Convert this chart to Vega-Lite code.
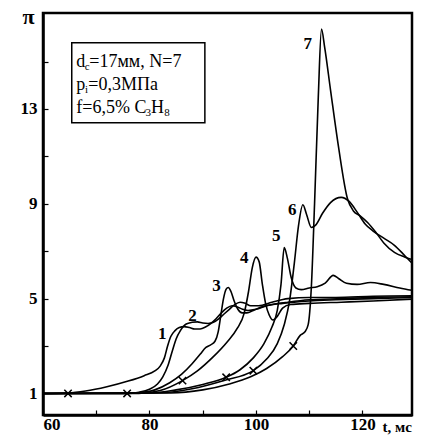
{
  "$schema": "https://vega.github.io/schema/vega-lite/v6.json",
  "width": 369,
  "height": 402,
  "autosize": "none",
  "padding": {"left": 43, "top": 13, "right": 15, "bottom": 21},
  "background": "white",
  "config": {
    "view": {"stroke": "black", "strokeWidth": 2.5},
    "font": "Liberation Serif"
  },
  "datasets": {
    "curves": [
      {"c":"1","t":60,"p":1},{"c":"1","t":64.7,"p":1.02},{"c":"1","t":68,"p":1.1},{"c":"1","t":72,"p":1.28},{"c":"1","t":76,"p":1.52},{"c":"1","t":79,"p":1.75},{"c":"1","t":81,"p":1.95},{"c":"1","t":82,"p":2.15},{"c":"1","t":82.8,"p":2.5},{"c":"1","t":83.4,"p":3.0},{"c":"1","t":84,"p":3.4},{"c":"1","t":84.8,"p":3.65},{"c":"1","t":85.6,"p":3.78},{"c":"1","t":86.5,"p":3.82},{"c":"1","t":87.5,"p":3.78},{"c":"1","t":88.5,"p":3.72},{"c":"1","t":89.5,"p":3.72},{"c":"1","t":90.5,"p":3.8},{"c":"1","t":91.5,"p":3.95},{"c":"1","t":92.5,"p":4.15},{"c":"1","t":93.5,"p":4.4},{"c":"1","t":94.5,"p":4.6},{"c":"1","t":95.5,"p":4.7},{"c":"1","t":96.5,"p":4.65},{"c":"1","t":97.5,"p":4.55},{"c":"1","t":98.5,"p":4.5},{"c":"1","t":100,"p":4.55},{"c":"1","t":102,"p":4.7},{"c":"1","t":105,"p":4.8},{"c":"1","t":110,"p":4.9},{"c":"1","t":115,"p":4.95},{"c":"1","t":122,"p":5.0},{"c":"1","t":129.3,"p":5.05},
      {"c":"2","t":60,"p":1},{"c":"2","t":72,"p":1.0},{"c":"2","t":75.8,"p":1.0},{"c":"2","t":78,"p":1.05},{"c":"2","t":80,"p":1.18},{"c":"2","t":81.5,"p":1.4},{"c":"2","t":82.5,"p":1.7},{"c":"2","t":83.5,"p":2.2},{"c":"2","t":84.3,"p":2.8},{"c":"2","t":85,"p":3.3},{"c":"2","t":85.8,"p":3.65},{"c":"2","t":86.9,"p":3.93},{"c":"2","t":88,"p":4.0},{"c":"2","t":89,"p":4.02},{"c":"2","t":90,"p":3.97},{"c":"2","t":91,"p":3.95},{"c":"2","t":92,"p":4.0},{"c":"2","t":93,"p":4.15},{"c":"2","t":94,"p":4.35},{"c":"2","t":95,"p":4.55},{"c":"2","t":96,"p":4.75},{"c":"2","t":97,"p":4.85},{"c":"2","t":98,"p":4.8},{"c":"2","t":99,"p":4.7},{"c":"2","t":100.5,"p":4.7},{"c":"2","t":103,"p":4.85},{"c":"2","t":106,"p":5.0},{"c":"2","t":110,"p":5.05},{"c":"2","t":115,"p":5.05},{"c":"2","t":122,"p":5.1},{"c":"2","t":129.3,"p":5.12},
      {"c":"3","t":60,"p":1},{"c":"3","t":75,"p":1.0},{"c":"3","t":78,"p":1.03},{"c":"3","t":81,"p":1.15},{"c":"3","t":83.8,"p":1.45},{"c":"3","t":86,"p":1.8},{"c":"3","t":88,"p":2.25},{"c":"3","t":89.5,"p":2.65},{"c":"3","t":90.6,"p":2.94},{"c":"3","t":91.5,"p":3.05},{"c":"3","t":92.3,"p":3.2},{"c":"3","t":92.9,"p":3.6},{"c":"3","t":93.4,"p":4.3},{"c":"3","t":93.9,"p":5.0},{"c":"3","t":94.4,"p":5.4},{"c":"3","t":94.8,"p":5.47},{"c":"3","t":95.3,"p":5.3},{"c":"3","t":95.9,"p":4.9},{"c":"3","t":96.6,"p":4.55},{"c":"3","t":97.4,"p":4.4},{"c":"3","t":98.3,"p":4.4},{"c":"3","t":99.5,"p":4.5},{"c":"3","t":101,"p":4.65},{"c":"3","t":103,"p":4.75},{"c":"3","t":106,"p":4.85},{"c":"3","t":110,"p":4.95},{"c":"3","t":116,"p":5.0},{"c":"3","t":122,"p":5.05},{"c":"3","t":129.3,"p":5.08},
      {"c":"4","t":60,"p":1},{"c":"4","t":78,"p":1.0},{"c":"4","t":82,"p":1.12},{"c":"4","t":86.2,"p":1.54},{"c":"4","t":89,"p":1.95},{"c":"4","t":92,"p":2.55},{"c":"4","t":94.5,"p":3.15},{"c":"4","t":96.5,"p":3.75},{"c":"4","t":97.8,"p":4.4},{"c":"4","t":98.6,"p":5.3},{"c":"4","t":99.3,"p":6.3},{"c":"4","t":100,"p":6.75},{"c":"4","t":100.6,"p":6.55},{"c":"4","t":101.2,"p":5.6},{"c":"4","t":101.8,"p":4.8},{"c":"4","t":102.5,"p":4.3},{"c":"4","t":103.2,"p":4.1},{"c":"4","t":104,"p":4.25},{"c":"4","t":105,"p":4.6},{"c":"4","t":106.5,"p":4.75},{"c":"4","t":110,"p":4.8},{"c":"4","t":116,"p":4.85},{"c":"4","t":122,"p":4.9},{"c":"4","t":129.3,"p":4.98},
      {"c":"5","t":60,"p":1},{"c":"5","t":80,"p":1.02},{"c":"5","t":85,"p":1.15},{"c":"5","t":90,"p":1.38},{"c":"5","t":94.4,"p":1.68},{"c":"5","t":97,"p":2.0},{"c":"5","t":99.5,"p":2.5},{"c":"5","t":101.5,"p":3.1},{"c":"5","t":103,"p":3.8},{"c":"5","t":104,"p":4.5},{"c":"5","t":104.7,"p":5.6},{"c":"5","t":105.3,"p":7.15},{"c":"5","t":105.9,"p":6.7},{"c":"5","t":106.6,"p":5.9},{"c":"5","t":107.5,"p":5.45},{"c":"5","t":108.5,"p":5.38},{"c":"5","t":110,"p":5.45},{"c":"5","t":111.5,"p":5.5},{"c":"5","t":113,"p":5.65},{"c":"5","t":114.5,"p":5.98},{"c":"5","t":115.5,"p":5.85},{"c":"5","t":117,"p":5.65},{"c":"5","t":119,"p":5.6},{"c":"5","t":121.5,"p":5.68},{"c":"5","t":124,"p":5.6},{"c":"5","t":127,"p":5.45},{"c":"5","t":129.3,"p":5.35},
      {"c":"6","t":60,"p":1},{"c":"6","t":82,"p":1.03},{"c":"6","t":88,"p":1.2},{"c":"6","t":94,"p":1.55},{"c":"6","t":99.5,"p":1.96},{"c":"6","t":102,"p":2.45},{"c":"6","t":104,"p":3.1},{"c":"6","t":105.3,"p":3.9},{"c":"6","t":106.3,"p":4.9},{"c":"6","t":107.2,"p":6.5},{"c":"6","t":108,"p":8.1},{"c":"6","t":108.8,"p":8.96},{"c":"6","t":109.5,"p":8.55},{"c":"6","t":110.4,"p":8.0},{"c":"6","t":111.2,"p":8.1},{"c":"6","t":112.5,"p":8.6},{"c":"6","t":114,"p":9.05},{"c":"6","t":116,"p":9.27},{"c":"6","t":117.5,"p":9.1},{"c":"6","t":119,"p":8.65},{"c":"6","t":120.5,"p":8.15},{"c":"6","t":122,"p":7.85},{"c":"6","t":124,"p":7.55},{"c":"6","t":126,"p":7.25},{"c":"6","t":128,"p":6.8},{"c":"6","t":129.3,"p":6.5},
      {"c":"7","t":60,"p":1},{"c":"7","t":84,"p":1.02},{"c":"7","t":90,"p":1.15},{"c":"7","t":95,"p":1.4},{"c":"7","t":99,"p":1.7},{"c":"7","t":102,"p":2.05},{"c":"7","t":105,"p":2.55},{"c":"7","t":107,"p":3.0},{"c":"7","t":108.3,"p":3.45},{"c":"7","t":109.2,"p":3.6},{"c":"7","t":109.8,"p":3.9},{"c":"7","t":110.4,"p":5.5},{"c":"7","t":111,"p":9},{"c":"7","t":111.7,"p":13.5},{"c":"7","t":112.3,"p":16.37},{"c":"7","t":112.9,"p":15.6},{"c":"7","t":114,"p":13.8},{"c":"7","t":115.5,"p":11.4},{"c":"7","t":117.2,"p":9.2},{"c":"7","t":118.3,"p":8.7},{"c":"7","t":119.5,"p":8.5},{"c":"7","t":121,"p":8.2},{"c":"7","t":122.5,"p":7.8},{"c":"7","t":124,"p":7.35},{"c":"7","t":126,"p":6.95},{"c":"7","t":128,"p":6.75},{"c":"7","t":129.3,"p":6.65}
    ],
    "crosses": [
      {"t":64.7,"p":1.0},{"t":75.8,"p":1.0},{"t":86.2,"p":1.54},{"t":94.4,"p":1.68},{"t":99.5,"p":1.96},{"t":107.0,"p":3.0}
    ],
    "labels": [
      {"t":82.4,"p":3.52,"label":"1"},{"t":88.1,"p":4.28,"label":"2"},{"t":92.6,"p":5.54,"label":"3"},{"t":97.8,"p":6.73,"label":"4"},{"t":103.8,"p":7.65,"label":"5"},{"t":106.8,"p":8.75,"label":"6"},{"t":109.7,"p":15.75,"label":"7"}
    ],
    "box": [{"t":65.4,"t2":90.4,"p":15.8,"p2":12.42}],
    "boxtext": [
      {"t":66.26,"p":14.78,"label":"d"},
      {"t":68.7,"p":14.78,"label":"=17мм, N=7"},
      {"t":66.26,"p":13.81,"label":"p"},
      {"t":68.5,"p":13.81,"label":"=0,3МПа"},
      {"t":66.26,"p":12.84,"label":"f=6,5% C"},
      {"t":80.3,"p":12.84,"label":"H"}
    ],
    "boxsub": [
      {"t":67.85,"p":14.78,"label":"c"},
      {"t":67.9,"p":13.81,"label":"i"},
      {"t":79.27,"p":12.84,"label":"3"},
      {"t":82.75,"p":12.84,"label":"8"}
    ]
  },
  "layer": [
    {
      "data": {"name": "curves"},
      "mark": {"type": "line", "color": "black", "strokeWidth": 1.6, "interpolate": "monotone", "clip": true},
      "encoding": {
        "x": {"field": "t", "type": "quantitative",
          "scale": {"domain": [60, 129.3], "nice": false, "zero": false},
          "axis": {"values": [60,70,80,90,100,110,120], "labelExpr": "datum.value % 20 == 0 ? datum.label : ''",
            "grid": false, "domainColor": "black", "domainWidth": 2.5, "tickColor": "black", "tickSize": -5, "tickWidth": 1.2,
            "labelFont": "Liberation Serif", "labelFontWeight": "bold", "labelFontSize": 17, "labelColor": "black", "labelPadding": 6,
            "title": "t, мс", "titleFont": "Liberation Serif", "titleFontWeight": "bold", "titleFontSize": 15, "titleColor": "black",
            "titleAlign": "left", "titleX": 339, "titleY": 16, "titleBaseline": "alphabetic"}},
        "y": {"field": "p", "type": "quantitative",
          "scale": {"domain": [0.09, 17.05], "nice": false, "zero": false},
          "axis": {"values": [1,3,5,7,9,11,13,15], "labelExpr": "datum.value % 4 == 1 ? datum.label : ''",
            "grid": false, "domainColor": "black", "domainWidth": 2.5, "tickColor": "black", "tickSize": -5, "tickWidth": 1.2,
            "labelFont": "Liberation Serif", "labelFontWeight": "bold", "labelFontSize": 17, "labelColor": "black", "labelPadding": 11,
            "title": "π", "titleFont": "Liberation Serif", "titleFontWeight": "bold", "titleFontSize": 22, "titleColor": "black",
            "titleAngle": 0, "titleAlign": "center", "titleX": -15, "titleY": 10, "titleBaseline": "alphabetic"}},
        "detail": {"field": "c"}
      }
    },
    {
      "data": {"name": "box"},
      "mark": {"type": "rect", "fill": "white", "fillOpacity": 0, "stroke": "black", "strokeWidth": 1.5},
      "encoding": {
        "x": {"field": "t", "type": "quantitative"}, "x2": {"field": "t2"},
        "y": {"field": "p", "type": "quantitative"}, "y2": {"field": "p2"}
      }
    },
    {
      "data": {"name": "crosses"},
      "mark": {"type": "point", "shape": "M-1,-1L1,1M-1,1L1,-1", "filled": false, "stroke": "black", "strokeWidth": 1.5, "size": 55, "opacity": 1},
      "encoding": {
        "x": {"field": "t", "type": "quantitative"},
        "y": {"field": "p", "type": "quantitative"}
      }
    },
    {
      "data": {"name": "labels"},
      "mark": {"type": "text", "font": "Liberation Serif", "fontWeight": "bold", "fontSize": 17, "color": "black", "align": "center", "baseline": "middle"},
      "encoding": {
        "x": {"field": "t", "type": "quantitative"},
        "y": {"field": "p", "type": "quantitative"},
        "text": {"field": "label"}
      }
    },
    {
      "data": {"name": "boxtext"},
      "mark": {"type": "text", "font": "Liberation Serif", "fontSize": 18, "color": "black", "align": "left", "baseline": "alphabetic"},
      "encoding": {
        "x": {"field": "t", "type": "quantitative"},
        "y": {"field": "p", "type": "quantitative"},
        "text": {"field": "label"}
      }
    },
    {
      "data": {"name": "boxsub"},
      "mark": {"type": "text", "font": "Liberation Serif", "fontSize": 11, "color": "black", "align": "left", "baseline": "alphabetic", "dy": 3},
      "encoding": {
        "x": {"field": "t", "type": "quantitative"},
        "y": {"field": "p", "type": "quantitative"},
        "text": {"field": "label"}
      }
    }
  ]
}
